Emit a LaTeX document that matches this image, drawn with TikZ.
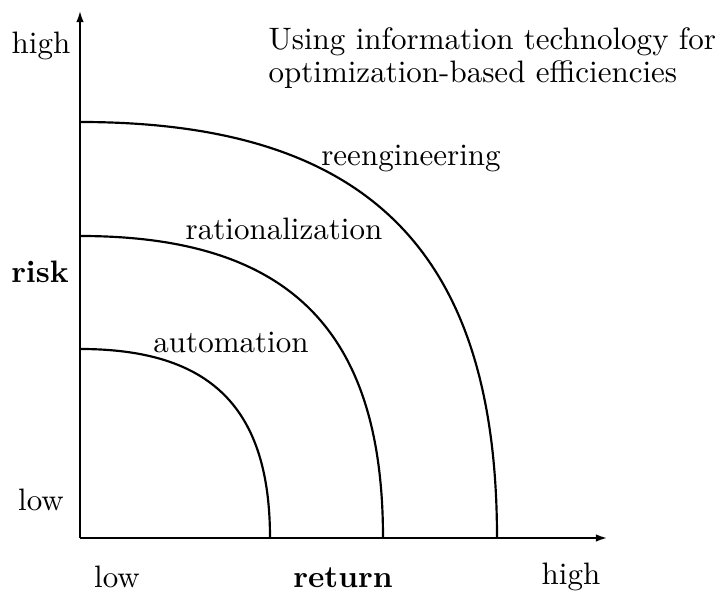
\documentclass[tikz,border=0pt]{standalone}
\usetikzlibrary{arrows.meta}
\begin{document}
\begin{tikzpicture}[x=0.3225pt,y=-0.3225pt,
  axis/.style={line width=0.8pt,-{Latex[length=3.9pt,width=2.4pt]}},
  curve/.style={line width=0.7pt},
  lbl/.style={anchor=base, inner sep=0pt, font=\fontsize{10}{12}\selectfont}]
\useasboundingbox (0,0) rectangle (720,592);
\coordinate (O) at (80,538);
\coordinate (Y) at (80,10);
\coordinate (X) at (608,538);
\draw[axis] (O) -- (Y);
\draw[axis] (O) -- (X);
% curves
\coordinate (a0) at (80,349);  \coordinate (a1) at (270,538);
\coordinate (r0) at (80,236);  \coordinate (r1) at (383,538);
\coordinate (e0) at (80,122);  \coordinate (e1) at (497,538);
\draw[curve] (a0) .. controls (211,349) and (270,408) .. (a1);
\draw[curve] (r0) .. controls (289,236) and (383,330) .. (r1);
\draw[curve] (e0) .. controls (368,122) and (497,251) .. (e1);
% labels
\node[lbl] (hiY) at (41,54) {high};
\node[anchor=north west, inner sep=0pt, align=left, font=\fontsize{10}{10.4}\selectfont] (title) at (268,27.5) {Using information technology for\\optimization-based efficiencies};
\node[lbl] (reeng) at (411,166) {reengineering};
\node[lbl] (ratio) at (284,240) {rationalization};
\node[lbl] (auto) at (231,353) {automation};
\node[lbl] (risk) at (40,283) {\bfseries risk};
\node[lbl] (loY) at (41,511) {low};
\node[lbl] (loX) at (117,588) {low};
\node[lbl] (ret) at (343,588) {\bfseries return};
\node[lbl] (hiX) at (571,585) {high};
\end{tikzpicture}
\end{document}
